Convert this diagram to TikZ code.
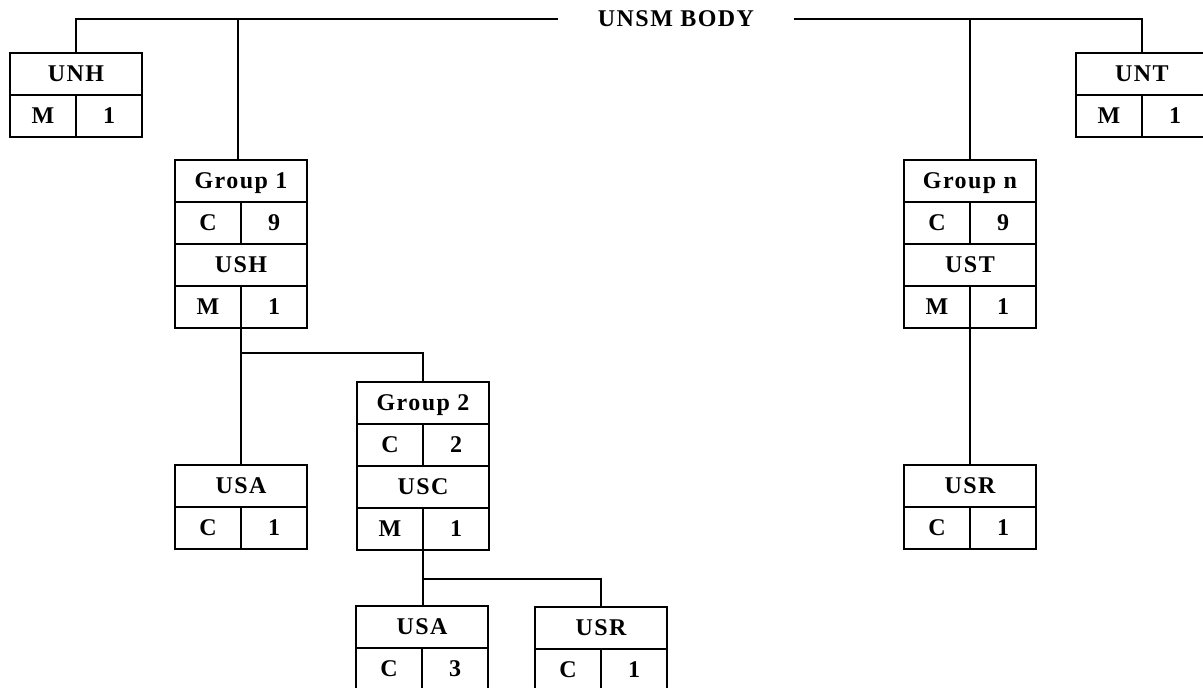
\documentclass[tikz,border=0pt]{standalone}
\usepackage{fontspec}
\newfontfamily\labfont{Liberation Serif}[LetterSpace=6]
\newcommand\twobox[6]{%
  \node[wide, anchor=north] (#1t) at (#2,#3) {#4};
  \node[half, anchor=north east] (#1l) at (#1t.south) {#5};
  \node[half, anchor=north west] (#1r) at (#1t.south) {#6};
}
\tikzset{
  cellbase/.style={draw, line width=1.5pt, inner sep=0pt, outer sep=0pt,
    minimum height=31.5pt, font=\labfont\bfseries\fontsize{18}{20}\selectfont,
    text height=11.9pt, text depth=0pt},
  wide/.style={cellbase, minimum width=99pt},
  half/.style={cellbase, minimum width=49.5pt},
  link/.style={line width=1.5pt},
  titlebox/.style={inner xsep=30pt, inner ysep=0pt, outer sep=0pt,
    font=\labfont\bfseries\fontsize{18}{20}\selectfont,
    text height=11.9pt, text depth=0pt}
}
\begin{document}
\begin{tikzpicture}[x=0.75pt, y=-0.75pt]
\useasboundingbox (0,0) rectangle (1203,688);
\clip (0,0) rectangle (1203,688);

\node[titlebox] (title) at (676,19) {UNSM BODY};

\twobox{unh}{76}{53}{UNH}{M}{1}
\twobox{unt}{1142}{53}{UNT}{M}{1}

\twobox{g1a}{241}{160}{Group 1}{C}{9}
\twobox{g1b}{241}{244}{USH}{M}{1}

\twobox{gna}{970}{160}{Group n}{C}{9}
\twobox{gnb}{970}{244}{UST}{M}{1}

\twobox{usaa}{241}{465}{USA}{C}{1}

\twobox{g2a}{423}{382}{Group 2}{C}{2}
\twobox{g2b}{423}{466}{USC}{M}{1}

\twobox{usra}{970}{465}{USR}{C}{1}

\twobox{usab}{422}{606}{USA}{C}{3}
\twobox{usrb}{601}{607}{USR}{C}{1}

\coordinate (j1) at (238,19);
\coordinate (b1) at (241,353);
\coordinate (b2) at (423,579);

\draw[link] (unht.north) |- (title.west);
\draw[link] (title.east) -| (untt.north);
\draw[link] (j1) -- (j1 |- g1at.north);
\draw[link] (gnat.north |- title.east) -- (gnat.north);
\draw[link] (g1bl.south east) -- (usaat.north);
\draw[link] (b1) -| (g2at.north);
\draw[link] (g2bl.south east) -- (g2bl.south east |- usabt.north);
\draw[link] (b2) -| (usrbt.north);
\draw[link] (gnbl.south east) -- (usrat.north);
\end{tikzpicture}
\end{document}
